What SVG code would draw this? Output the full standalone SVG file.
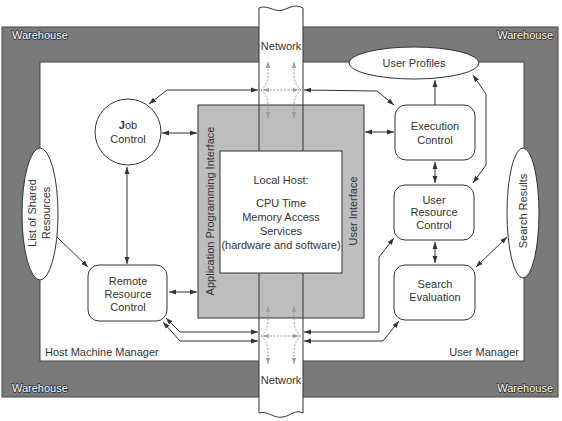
<svg xmlns="http://www.w3.org/2000/svg" width="562" height="421" viewBox="0 0 562 421">
<defs>
<style>
text{font-family:"Liberation Sans",Arial,sans-serif;font-size:11px;fill:#333}
.c{text-anchor:middle}
.wh{fill:#fff;stroke:#333;stroke-width:1.6px;paint-order:stroke fill;font-size:11px}
.box{fill:#fff;stroke:#333;stroke-width:1}
.ln{fill:none;stroke:#333;stroke-width:1}
.arr{marker-end:url(#ah)}
.dbl{marker-start:url(#ah);marker-end:url(#ah)}
.dot{fill:none;stroke:#999;stroke-width:1;stroke-dasharray:2 1.5}
.darr{marker-end:url(#dh)}
.ddbl{marker-start:url(#dh);marker-end:url(#dh)}
</style>
<marker id="ah" viewBox="0 0 10 10" refX="10" refY="5" markerWidth="7" markerHeight="7" orient="auto-start-reverse" markerUnits="userSpaceOnUse"><path d="M0,1.5 L10,5 L0,8.5 z" fill="#333"/></marker>
<marker id="dh" viewBox="0 0 10 10" refX="10" refY="5" markerWidth="6" markerHeight="6" orient="auto-start-reverse" markerUnits="userSpaceOnUse"><path d="M0,1.5 L10,5 L0,8.5 z" fill="#999"/></marker>
</defs>

<g id="warehouse">
<rect x="2" y="27" width="556" height="370" fill="#7a7a7a" stroke="#444" stroke-width="1"/>
<rect x="40" y="62" width="484" height="299" fill="#fff" stroke="#444" stroke-width="1"/>
<text class="wh" x="12" y="39">Warehouse</text>
<text class="wh" x="553" y="39" text-anchor="end">Warehouse</text>
<text class="wh" x="12" y="392">Warehouse</text>
<text class="wh" x="553" y="392" text-anchor="end">Warehouse</text>
<text x="45" y="356">Host Machine Manager</text>
<text x="519" y="356" text-anchor="end">User Manager</text>
</g>

<g id="network">
<path d="M259,8 C268,4 274,13 283,10 C291,7 296,4 303,8 L303,413 C296,409 290,416 283,417 C274,419 267,410 259,413 Z" fill="#fff" stroke="none"/>
<text class="c" x="281" y="50">Network</text>
<text class="c" x="281" y="384">Network</text>
</g>

<g id="api">
<rect x="198" y="105" width="166" height="213" fill="#bdbdbd" stroke="#333" stroke-width="1"/>
<text class="c" transform="translate(214,211) rotate(-90)">Application Programming Interface</text>
<text class="c" transform="translate(357,211) rotate(-90)">User Interface</text>
</g>

<g id="network-edges">
<path d="M259,8 C268,4 274,13 283,10 C291,7 296,4 303,8" class="ln"/>
<path d="M259,413 C267,410 274,419 283,417 C290,416 296,409 303,413" class="ln"/>
<line x1="259" y1="8" x2="259" y2="413" class="ln"/>
<line x1="303" y1="8" x2="303" y2="413" class="ln"/>
</g>

<g id="local-host">
<rect x="220" y="151" width="122" height="122" class="box"/>
<text class="c" x="281" y="184">Local Host:</text>
<text class="c" x="281" y="207">CPU Time</text>
<text class="c" x="281" y="221">Memory Access</text>
<text class="c" x="281" y="235">Services</text>
<text class="c" x="281" y="249">(hardware and software)</text>
</g>

<g id="job-control">
<circle cx="128" cy="132" r="33" class="box"/>
<text class="c" x="128" y="129"><tspan font-weight="bold">J</tspan>ob</text>
<text class="c" x="128" y="143">Control</text>
</g>

<g id="list-shared">
<ellipse cx="40" cy="214" rx="18" ry="66" class="box"/>
<text class="c" transform="translate(36,213) rotate(-90)">List of Shared</text>
<text class="c" transform="translate(50,213) rotate(-90)">Resources</text>
</g>

<g id="remote-resource">
<rect x="88" y="265" width="79" height="56" rx="11" class="box"/>
<text class="c" x="128" y="285">Remote</text>
<text class="c" x="128" y="298">Resource</text>
<text class="c" x="128" y="311">Control</text>
</g>

<g id="user-profiles">
<ellipse cx="414" cy="63" rx="65" ry="16" class="box"/>
<text class="c" x="414" y="67">User Profiles</text>
</g>

<g id="execution-control">
<rect x="395" y="105" width="80" height="55" rx="11" class="box"/>
<text class="c" x="435" y="130">Execution</text>
<text class="c" x="435" y="144">Control</text>
</g>

<g id="user-resource">
<rect x="394" y="185" width="80" height="55" rx="11" class="box"/>
<text class="c" x="434" y="204">User</text>
<text class="c" x="434" y="216">Resource</text>
<text class="c" x="434" y="229">Control</text>
</g>

<g id="search-evaluation">
<rect x="394" y="265" width="81" height="55" rx="11" class="box"/>
<text class="c" x="435" y="288">Search</text>
<text class="c" x="435" y="301">Evaluation</text>
</g>

<g id="search-results">
<ellipse cx="523" cy="213" rx="16" ry="65" class="box"/>
<text class="c" transform="translate(527,211) rotate(-90)">Search Results</text>
</g>

<g id="connectors">
<polyline points="149,104 167,90 258,90" class="ln dbl"/>
<polyline points="304,90 377,91 394,105" class="ln dbl"/>
<line x1="162" y1="133" x2="197" y2="133" class="ln dbl"/>
<line x1="127" y1="167" x2="127" y2="264" class="ln dbl"/>
<line x1="57" y1="237" x2="88" y2="267" class="ln arr"/>
<line x1="169" y1="292" x2="197" y2="292" class="ln dbl"/>
<polyline points="166,318 180,332 258,332" class="ln dbl"/>
<polyline points="163,322 180,341 258,341" class="ln dbl"/>
<line x1="365" y1="132" x2="394" y2="132" class="ln dbl"/>
<line x1="435" y1="105" x2="435" y2="80" class="ln arr"/>
<line x1="435" y1="162" x2="435" y2="183" class="ln dbl"/>
<line x1="435" y1="242" x2="435" y2="263" class="ln dbl"/>
<polyline points="473,75 486,94 486,165 473,183" class="ln dbl"/>
<line x1="476" y1="267" x2="507" y2="237" class="ln dbl"/>
<polyline points="304,332 379,332 379,257 394,238" class="ln dbl"/>
<polyline points="304,341 383,341 399,321" class="ln dbl"/>
<path d="M263,90 L299,90" class="dot ddbl"/>
<path d="M261,90 Q268,84 268,75 L268,62" class="dot darr"/>
<path d="M261,90 Q268,96 268,105 L268,118" class="dot darr"/>
<path d="M301,90 Q294,84 294,75 L294,62" class="dot darr"/>
<path d="M301,90 Q294,96 294,105 L294,118" class="dot darr"/>
<path d="M263,336 L299,336" class="dot ddbl"/>
<path d="M261,336 Q268,330 268,321 L268,306" class="dot darr"/>
<path d="M261,336 Q268,342 268,351 L268,364" class="dot darr"/>
<path d="M301,336 Q294,330 294,321 L294,306" class="dot darr"/>
<path d="M301,336 Q294,342 294,351 L294,364" class="dot darr"/>
</g>
</svg>
